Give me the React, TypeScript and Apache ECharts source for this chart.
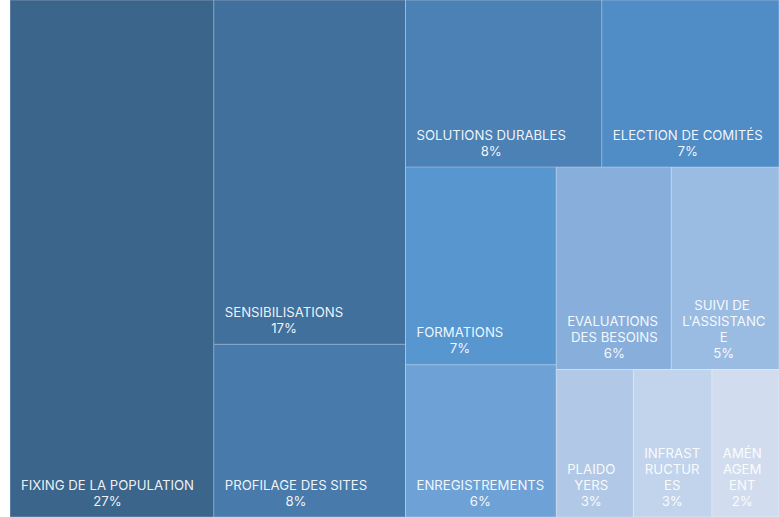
import React, { useEffect, useRef } from 'react';
import * as echarts from 'echarts';

// ---- data ----
const categories = [
  'FIXING DE LA POPULATION',
  'SENSIBILISATIONS',
  'PROFILAGE DES SITES',
  'SOLUTIONS DURABLES',
  'ELECTION DE COMITÉS',
  'FORMATIONS',
  'ENREGISTREMENTS',
  'EVALUATIONS DES BESOINS',
  "SUIVI DE L'ASSISTANCE",
  'PLAIDOYERS',
  'INFRASTRUCTURES',
  'AMÉNAGEMENT',
];
const values = [2650, 1660, 833, 825, 745, 749, 577, 586, 549, 286, 291, 249];
// grouping of the categories (by index) into nested blocks
const grouping: any[] = [0, [[1, 2], [[3, 4], [[5, 6], [[7, 8], [[9, 10], 11]]]]]];

// ---- style ----
const colors = [
  '#3b658b', '#41709c', '#487aab', '#4c81b6', '#508cc5', '#5796cf',
  '#6ea2d7', '#88afdc', '#9bbce2', '#b1c8e6', '#c2d4ec', '#d1ddef',
];
const FONT_SIZE = 13.2;
const FONT_FAMILY = 'Inter';
const FONT = `${FONT_SIZE}px ${FONT_FAMILY}`;
const LINE_HEIGHT = 16;
const WRAP_INSET = 20; // horizontal room kept free when wrapping
const OFFSET_X = 10.5;
const PAD_B = 3;

const TOTAL = values.reduce((a, b) => a + b, 0);

function lighten(hex: string, t: number): string {
  const n = parseInt(hex.slice(1), 16);
  const r = (n >> 16) & 255, g = (n >> 8) & 255, b = n & 255;
  const m = (c: number) => Math.round(c + (255 - c) * t);
  return `rgb(${m(r)},${m(g)},${m(b)})`;
}

function build(node: any): any {
  if (typeof node === 'number') {
    return {
      name: categories[node],
      value: values[node],
      itemStyle: {
        color: colors[node],
        borderColor: lighten(colors[node], 0.3),
        borderWidth: 0.5,
      },
    };
  }
  return {
    name: '',
    children: node.map(build),
    itemStyle: { borderWidth: 0, gapWidth: 0, borderColor: 'transparent' },
    label: { show: false },
  };
}

let ctx: CanvasRenderingContext2D | null = null;
function measure(s: string): number {
  if (!ctx) ctx = document.createElement('canvas').getContext('2d');
  if (!ctx) return s.length * FONT_SIZE * 0.6;
  ctx.font = FONT;
  return ctx.measureText(s).width;
}

// greedy word wrap; words longer than a line are split
function wrap(text: string, maxW: number): string[] {
  const lines: string[] = [];
  let cur = '';
  for (const word of text.split(' ')) {
    const cand = cur ? `${cur} ${word}` : word;
    if (measure(cand) <= maxW) {
      cur = cand;
      continue;
    }
    if (cur) {
      lines.push(`${cur} `);
      cur = '';
    }
    let w = word;
    while (w.length > 1 && measure(w) > maxW) {
      let n = w.length - 1;
      while (n > 1 && measure(w.slice(0, n)) > maxW) n--;
      lines.push(w.slice(0, n));
      w = w.slice(n);
    }
    cur = w;
  }
  if (cur) lines.push(cur);
  return lines;
}

export default function App() {
  const ref = useRef<HTMLDivElement>(null);
  useEffect(() => {
    if (!ref.current) return;
    const chart = echarts.init(ref.current, null, { renderer: 'svg' });
    const wrapped = new Map<number, { text: string; w: number }>();

    const option = () => ({
      animation: false,
      series: [
        {
          type: 'treemap',
          left: 0,
          top: 0,
          right: 0,
          bottom: 0,
          width: '100%',
          height: '100%',
          roam: false,
          nodeClick: false,
          silent: true,
          sort: false,
          squareRatio: 1,
          breadcrumb: { show: false },
          itemStyle: { borderWidth: 0, gapWidth: 0, borderColor: 'transparent' },
          upperLabel: { show: false },
          label: {
            show: true,
            position: 'insideBottomLeft',
            color: 'rgba(255,255,255,0.93)',
            fontFamily: FONT_FAMILY,
            fontSize: FONT_SIZE,
            lineHeight: LINE_HEIGHT,
            overflow: 'none',
            textBorderWidth: 0,
            textBorderColor: 'transparent',
            formatter: (p: any) => {
              const info = wrapped.get(p.dataIndex);
              if (info) return info.text;
              return `${p.name}\n${Math.round((p.value * 100) / TOTAL)}%`;
            },
          },
          labelLayout: (p: any) => {
            if (!p.text || !p.rect) return {};
            let info = wrapped.get(p.dataIndex);
            if (!info) {
              const parts = String(p.text).split('\n');
              const pct = parts.pop() || '';
              const name = parts.join(' ');
              const lines = wrap(name, Math.max(p.rect.width - WRAP_INSET, 10));
              lines.push(pct);
              const w = Math.max(...lines.map(measure));
              info = { text: lines.join('\n'), w };
              wrapped.set(p.dataIndex, info);
            }
            return {
              x: p.rect.x + OFFSET_X + info.w / 2,
              y: p.rect.y + p.rect.height - PAD_B,
              align: 'center',
              verticalAlign: 'bottom',
            };
          },
          data: build(grouping).children,
        },
      ],
    });

    chart.setOption(option());
    if (wrapped.size) chart.setOption(option());
    return () => chart.dispose();
  }, []);
  return (
    <div
      ref={ref}
      style={{ position: 'absolute', left: 10, top: 0, width: 769, height: 517 }}
    />
  );
}
